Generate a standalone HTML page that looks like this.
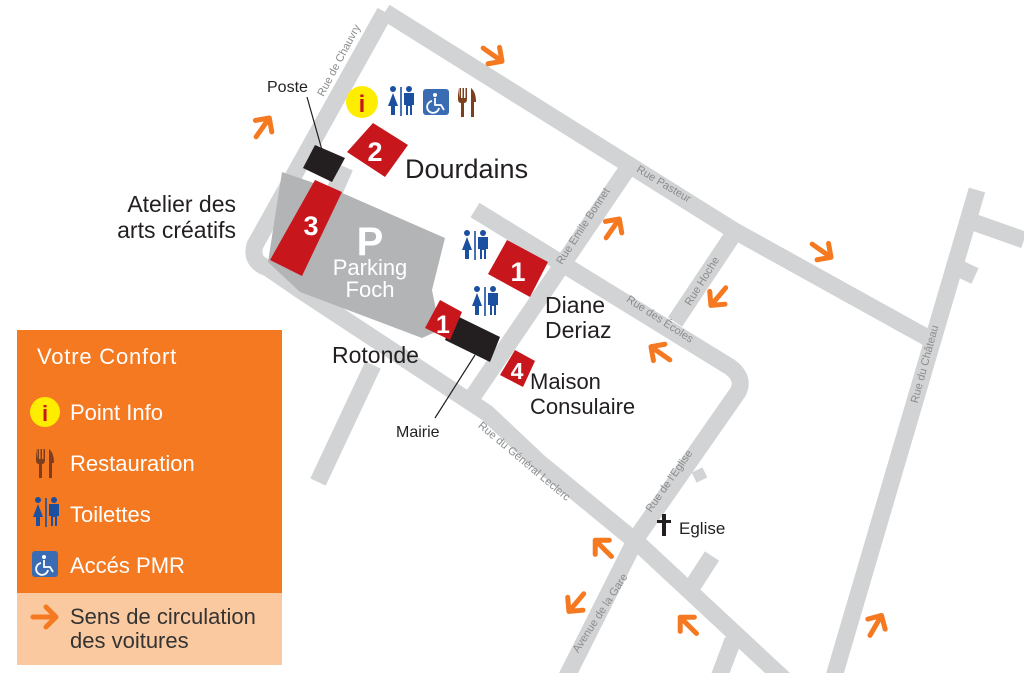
<!DOCTYPE html>
<html><head><meta charset="utf-8"><style>
html,body{margin:0;padding:0;background:#fff;}
svg{display:block;font-family:"Liberation Sans",sans-serif;}
</style></head><body>
<svg width="1024" height="673" viewBox="0 0 1024 673" xmlns="http://www.w3.org/2000/svg">
<defs>
<g id="ar"><path d="M-12,0 H11 M1,-10 L11,0 L1,10" fill="none" stroke="#f47920" stroke-width="5" stroke-linecap="round" stroke-linejoin="round"/></g>
<g id="wc" fill="#1b4fa0">
<circle cx="-8" cy="-13" r="3"/><path d="M-8,-9 L-13,4 L-10,4 L-10,13 L-6,13 L-6,4 L-3,4 Z"/>
<rect x="-0.8" y="-15" width="1.6" height="29"/>
<circle cx="8" cy="-13" r="3"/><path d="M3,-9 H13 V3 H11 V13 H9 V4 H7 V13 H5 V3 H3 Z"/>
</g>
<g id="pmr"><rect x="-13" y="-13" width="26" height="26" rx="3" fill="#3a6cb4"/>
<circle cx="-1" cy="-7" r="2" fill="#fff"/><path d="M-1,-4 V3 H5 L8,8 M-4,-1 A6,6 0 1 0 3,6" fill="none" stroke="#fff" stroke-width="1.8"/></g>
<g id="fork" fill="#7b3f1e"><path d="M-9,-14 V-3 Q-9,1 -6,1 V15 H-3 V1 Q0,1 0,-3 V-14 H-1.5 V-4 H-3 V-14 H-4.5 V-4 H-6 V-14 H-7.5 V-4 Z"/><path d="M4,-14 Q9,-10 9,0 H7 V15 H4 Z"/></g>
</defs>
<g fill="none" stroke="#d1d3d4" stroke-width="17" stroke-linejoin="round" stroke-linecap="butt">
<path d="M385,12 L255,245 Q250,262 268,268 L300,290 L487,413 L540,463 L640,545 L785,680"/>
<path d="M385,12 L733,230 L935,342"/>
<path d="M628,168 L467,405"/>
<path d="M475,210 L730,367 Q745,378 738,392 L637,537 L565,680"/>
<path d="M735,232 L675,322"/>
<path d="M977,190 L833,680"/>
<path d="M973,222 L1024,240"/>
<path d="M958,268 L975,276"/>
<path d="M373,365 L318,482"/>
<path d="M697,470 L702,480" stroke-width="12"/>
<path d="M712,556 L690,590"/>
<path d="M733,640 L718,680"/>
<path d="M345,167 L335,190"/>
</g>
<polygon points="282,172 340,192 445,238 432,290 440,330 422,338 300,292 268,262" fill="#b3b4b6"/>
<polygon points="315,180 342,192 302,276 270,260" fill="#c8161d"/>
<text x="311" y="235" fill="#fff" font-size="27" font-weight="bold" text-anchor="middle">3</text>
<text x="370" y="255" fill="#fff" font-size="40" font-weight="bold" text-anchor="middle">P</text>
<text x="370" y="275" fill="#fff" font-size="22" text-anchor="middle">Parking</text>
<text x="370" y="297" fill="#fff" font-size="22" text-anchor="middle">Foch</text>
<polygon points="373,123 408,145 385,177 347,152" fill="#c8161d"/>
<text x="375" y="161" fill="#fff" font-size="27" font-weight="bold" text-anchor="middle">2</text>
<polygon points="315,145 345,158 332,182 303,168" fill="#231f20"/>
<line x1="307" y1="97" x2="322" y2="150" stroke="#231f20" stroke-width="1.2"/>
<polygon points="507,240 548,262 530,297 488,274" fill="#c8161d"/>
<text x="518" y="281" fill="#fff" font-size="27" font-weight="bold" text-anchor="middle">1</text>
<polygon points="455,315 500,337 490,362 445,340" fill="#231f20"/>
<polygon points="440,300 462,312 450,340 425,328" fill="#c8161d"/>
<text x="443" y="333" fill="#fff" font-size="25" font-weight="bold" text-anchor="middle">1</text>
<line x1="475" y1="355" x2="435" y2="418" stroke="#231f20" stroke-width="1.2"/>
<polygon points="515,350 535,361 523,387 500,375" fill="#c8161d"/>
<text x="517" y="379" fill="#fff" font-size="23" font-weight="bold" text-anchor="middle">4</text>
<circle cx="362" cy="102" r="16" fill="#ffed00"/>
<text x="362" y="112" fill="#c8161d" font-size="24" font-weight="bold" text-anchor="middle">i</text>
<use href="#wc" x="401" y="102"/>
<use href="#pmr" x="436" y="102"/>
<use href="#fork" x="467" y="102"/>
<use href="#wc" x="475" y="246"/>
<use href="#wc" x="485" y="302"/>
<g fill="#231f20">
<text x="267" y="92" font-size="16">Poste</text>
<text x="405" y="178" font-size="27">Dourdains</text>
<text x="236" y="212" font-size="23" text-anchor="end">Atelier des</text>
<text x="236" y="238" font-size="23" text-anchor="end">arts créatifs</text>
<text x="332" y="363" font-size="23">Rotonde</text>
<text x="545" y="313" font-size="23">Diane</text>
<text x="545" y="338" font-size="23">Deriaz</text>
<text x="530" y="389" font-size="22">Maison</text>
<text x="530" y="414" font-size="22">Consulaire</text>
<text x="396" y="437" font-size="16">Mairie</text>
<text x="679" y="534" font-size="17">Eglise</text>
<path d="M662,514 h4 v6 h5 v3 h-5 v13 h-4 v-13 h-5 v-3 h5z"/>
</g>
<g fill="#8a8c8e" font-size="11">
<text transform="translate(342,62) rotate(-62)" text-anchor="middle">Rue de Chauvry</text>
<text transform="translate(662,187) rotate(31)" text-anchor="middle">Rue Pasteur</text>
<text transform="translate(586,228) rotate(-57)" text-anchor="middle">Rue Emile Bonnet</text>
<text transform="translate(705,283) rotate(-58)" text-anchor="middle">Rue Hoche</text>
<text transform="translate(658,322) rotate(33)" text-anchor="middle">Rue des Écoles</text>
<text transform="translate(522,464) rotate(40)" text-anchor="middle">Rue du Général Leclerc</text>
<text transform="translate(672,483) rotate(-55)" text-anchor="middle">Rue de l'Eglise</text>
<text transform="translate(603,615) rotate(-57)" text-anchor="middle">Avenue de la Gare</text>
<text transform="translate(928,365) rotate(-75)" text-anchor="middle">Rue du Château</text>
</g>
<use href="#ar" transform="translate(493,55) rotate(35)"/>
<use href="#ar" transform="translate(263,127) rotate(-55)"/>
<use href="#ar" transform="translate(613,228) rotate(-55)"/>
<use href="#ar" transform="translate(822,251) rotate(35)"/>
<use href="#ar" transform="translate(718,297) rotate(130)"/>
<use href="#ar" transform="translate(660,353) rotate(-145)"/>
<use href="#ar" transform="translate(603,548) rotate(-135)"/>
<use href="#ar" transform="translate(576,603) rotate(130)"/>
<use href="#ar" transform="translate(688,625) rotate(-135)"/>
<use href="#ar" transform="translate(876,625) rotate(-60)"/>
<rect x="17" y="330" width="265" height="263" fill="#f47920"/>
<rect x="17" y="593" width="265" height="72" fill="#fbc9a0"/>
<g fill="#fff" font-size="22">
<text x="37" y="364" letter-spacing="0.8">Votre Confort</text>
<text x="70" y="420">Point Info</text>
<text x="70" y="471">Restauration</text>
<text x="70" y="522">Toilettes</text>
<text x="70" y="573">Accés PMR</text>
</g>
<circle cx="45" cy="412" r="15" fill="#ffed00"/>
<text x="45" y="421" fill="#c8161d" font-size="22" font-weight="bold" text-anchor="middle">i</text>
<use href="#fork" x="45" y="463"/>
<use href="#wc" x="46" y="513"/>
<use href="#pmr" x="45" y="564"/>
<use href="#ar" transform="translate(45,617)"/>
<g fill="#333" font-size="22">
<text x="70" y="624">Sens de circulation</text>
<text x="70" y="648">des voitures</text>
</g>
</svg>
</body></html>
